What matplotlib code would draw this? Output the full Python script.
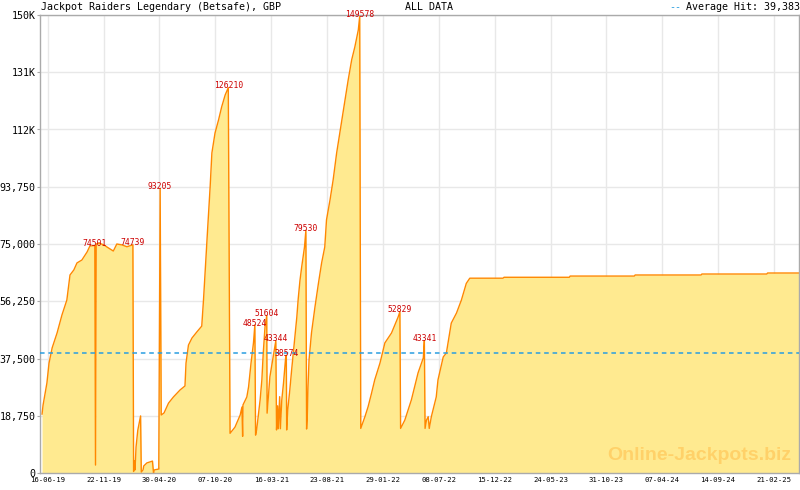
import numpy as np
import pandas as pd
import matplotlib
matplotlib.use("Agg")
import matplotlib.pyplot as plt
import matplotlib.dates as mdates

# jackpot history (date, amount in GBP)
dates = [
    "2019-05-30", "2019-06-02", "2019-06-13", "2019-06-19", "2019-06-28", "2019-07-12",
    "2019-07-26", "2019-08-09", "2019-08-18", "2019-08-29", "2019-09-07", "2019-09-21",
    "2019-10-06", "2019-10-14", "2019-10-28", "2019-10-30", "2019-11-01", "2019-11-09",
    "2019-11-23", "2019-12-02", "2019-12-20", "2019-12-30", "2020-01-14", "2020-01-28",
    "2020-02-14", "2020-02-16", "2020-02-18", "2020-02-20", "2020-02-23", "2020-02-28",
    "2020-03-07", "2020-03-09", "2020-03-14", "2020-03-16", "2020-03-25", "2020-04-10",
    "2020-04-13", "2020-04-15", "2020-04-28", "2020-05-02", "2020-05-05", "2020-05-13",
    "2020-05-26", "2020-06-09", "2020-06-28", "2020-07-12", "2020-07-15", "2020-07-22",
    "2020-08-01", "2020-08-15", "2020-08-29", "2020-09-03", "2020-09-10", "2020-09-15",
    "2020-09-22", "2020-09-27", "2020-10-06", "2020-10-16", "2020-10-25", "2020-11-04",
    "2020-11-13", "2020-11-18", "2020-12-02", "2020-12-17", "2020-12-22", "2020-12-24",
    "2020-12-25", "2021-01-05", "2021-01-10", "2021-01-17", "2021-01-24", "2021-01-28",
    "2021-01-30", "2021-02-02", "2021-02-12", "2021-02-17", "2021-02-21", "2021-02-26",
    "2021-03-03", "2021-03-04", "2021-03-07", "2021-03-12", "2021-03-21", "2021-03-29",
    "2021-03-31", "2021-04-03", "2021-04-05", "2021-04-09", "2021-04-11", "2021-04-15",
    "2021-04-20", "2021-04-26", "2021-04-28", "2021-04-29", "2021-05-02", "2021-05-08",
    "2021-05-13", "2021-05-23", "2021-05-28", "2021-06-01", "2021-06-06", "2021-06-11",
    "2021-06-19", "2021-06-23", "2021-06-25", "2021-06-27", "2021-06-29", "2021-07-02",
    "2021-07-09", "2021-07-19", "2021-07-29", "2021-08-07", "2021-08-16", "2021-08-21",
    "2021-08-31", "2021-09-09", "2021-09-19", "2021-09-28", "2021-10-13", "2021-10-22",
    "2021-11-01", "2021-11-10", "2021-11-20", "2021-11-24", "2021-11-27", "2021-12-09",
    "2021-12-18", "2021-12-28", "2022-01-06", "2022-01-21", "2022-02-04", "2022-02-23",
    "2022-03-14", "2022-03-19", "2022-03-21", "2022-04-02", "2022-04-21", "2022-05-10",
    "2022-05-25", "2022-05-28", "2022-05-30", "2022-06-03", "2022-06-08", "2022-06-11",
    "2022-06-17", "2022-07-01", "2022-07-06", "2022-07-21", "2022-07-30", "2022-08-13",
    "2022-08-28", "2022-09-11", "2022-09-25", "2022-10-05", "2023-01-08", "2023-01-11",
    "2023-07-17", "2023-07-19", "2024-01-19", "2024-01-21", "2024-07-28", "2024-07-30",
    "2025-02-01", "2025-02-03", "2025-05-04",
]
values = [
    19300, 22270, 29500, 36000, 41000, 45850,
    51750, 56650, 64850, 66500, 68800, 69750,
    72400, 74350, 74501, 2600, 75000, 75300,
    74700, 74000, 72700, 75000, 74700, 74100,
    74739, 500, 4000, 1000, 8500, 14000,
    18700, 300, 1000, 2300, 3300, 3900,
    0, 1000, 1300, 93205, 19000, 19650,
    22900, 24900, 27200, 28500, 36000, 41900,
    44200, 46200, 48100, 56650, 70700, 80200,
    93700, 104800, 111350, 115600, 119900, 123800,
    126210, 13000, 15000, 19000, 21600, 12000,
    22300, 24900, 28200, 36000, 42600, 48524,
    12400, 14100, 23900, 30500, 39300, 47800,
    51604, 19600, 24000, 31500, 37700, 43344,
    14100, 22000, 14500, 25000, 14500, 23900,
    29500, 37700, 38574, 14100, 20600, 27200,
    33500, 45000, 51000, 57000, 63000, 67500,
    74000, 79530, 14400, 18500, 28100, 37000,
    45850, 54400, 62200, 68800, 74000, 82900,
    89400, 96000, 104800, 111400, 122200, 128700,
    135300, 139500, 145100, 149578, 14600, 18450,
    21700, 26200, 30500, 36000, 42600, 45850,
    51100, 52829, 14600, 17300, 24000, 32800,
    37700, 43341, 14600, 17300, 18450, 14600,
    18450, 24900, 30500, 38000, 39300, 49100,
    52400, 56650, 62100, 63800, 63800, 64100,
    64100, 64500, 64500, 64850, 64850, 65170,
    65170, 65500, 65500,
]
hit_values = [74501, 74739, 93205, 126210, 48524, 51604, 43344, 38574,
              79530, 149578, 52829, 43341]
avg_hit = 39383

y_ticks = [0, 18750, 37500, 56250, 75000, 93750, 112500, 131250, 150000]
y_labels = ["0", "18,750", "37,500", "56,250", "75,000", "93,750", "112K", "131K", "150K"]
x_labels = ["16-06-19", "22-11-19", "30-04-20", "07-10-20", "16-03-21", "23-08-21",
            "29-01-22", "08-07-22", "15-12-22", "24-05-23", "31-10-23", "07-04-24",
            "14-09-24", "21-02-25"]

plt.rcParams['font.family'] = 'DejaVu Sans Mono'

d = pd.to_datetime(dates)
v = np.array(values)
xt = pd.to_datetime(x_labels, format="%d-%m-%y")

fig = plt.figure(figsize=(8, 4.9), dpi=100)
ax = fig.add_axes([0.05, 17/490, 759/800, 458/490])

ax.fill_between(d, v, 0, color="#ffea90", lw=0, zorder=1)
ax.plot(d, v, color="#ff8800", lw=1, zorder=2)
ax.axhline(avg_hit, color="#2a9ee0", lw=1.1, ls=(0, (3, 2.5)), zorder=3)

# labels on each hit
for hv in hit_values:
    i = values.index(hv)
    ax.annotate(str(hv), (d[i], hv), xytext=(0, -0.5), textcoords="offset points",
                ha="center", va="baseline", fontsize=5.8, color="#cc0000",
                annotation_clip=False, zorder=4)

ax.set_xlim(pd.Timestamp("2019-05-30"), pd.Timestamp("2025-05-04"))
ax.set_ylim(0, 150000)
ax.set_yticks(y_ticks)
ax.set_yticklabels(y_labels)
ax.set_xticks(xt)
ax.set_xticklabels(x_labels)

# minor ticks, 7 per interval
xn = mdates.date2num(xt)
step = (xn[-1] - xn[0]) / 13 / 7
ax.set_xticks(np.arange(xn[0] - step, xn[-1] + 4 * step, step), minor=True)

ax.grid(True, which="major", color="#e8e8e8", lw=1)
ax.set_axisbelow(True)
ax.tick_params(axis="x", which="major", direction="in", length=4.5, color="#aaaaaa",
               labelsize=5.2, pad=3.2)
ax.tick_params(axis="x", which="minor", direction="in", length=2.2, color="#aaaaaa")
ax.tick_params(axis="y", direction="out", length=2.2, color="#aaaaaa", labelsize=7.2, pad=1)
for s in ax.spines.values():
    s.set_color("#aaaaaa")
    s.set_linewidth(1)

ty = 1 - 7/490
fig.text(41/800, ty, "Jackpot Raiders Legendary (Betsafe), GBP", fontsize=7.2, va="center")
fig.text(405/800, ty, "ALL DATA", fontsize=7.2, va="center")
fig.text(669/800, ty, "--", fontsize=7.2, va="center", color="#2a9ee0")
fig.text(0.9995, ty, "Average Hit: {:,}".format(avg_hit), fontsize=7.2, va="center", ha="right")
fig.text(699/800, 1 - 455/490, "Online-Jackpots.biz", fontsize=14, fontweight="bold",
         family="Liberation Sans", color="#ffc95c", alpha=0.75, ha="center", va="center")

fig.savefig("out.png", dpi=100)
